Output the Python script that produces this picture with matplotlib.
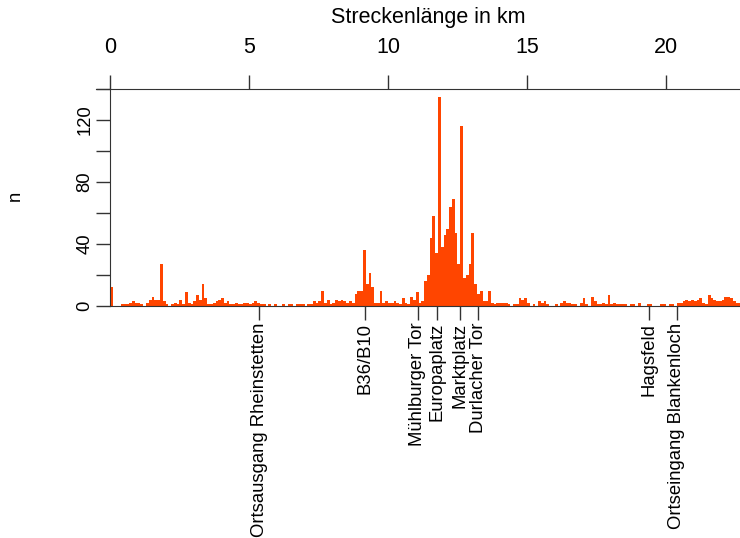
import numpy as np
import matplotlib.pyplot as plt
from matplotlib.ticker import MultipleLocator

plt.rcParams['font.family'] = ['Liberation Sans', 'DejaVu Sans']

# counts per 0.1 km section, starting at km 0.0
bin_width = 0.1
counts = [
    12, 0, 0, 0, 1, 1, 1, 2, 3, 2,        # 0
    2, 1, 0, 2, 4, 6, 4, 4, 27, 3,        # 1
    1, 0, 1, 2, 1, 4, 1, 9, 2, 1,         # 2
    3, 7, 4, 14, 5, 1, 1, 2, 3, 4,        # 3
    5, 2, 3, 1, 1, 2, 1, 1, 2, 2,         # 4
    1, 2, 3, 2, 1, 1, 0, 1, 0, 1,         # 5
    0, 0, 1, 0, 1, 1, 0, 1, 1, 1,         # 6
    0, 1, 1, 3, 2, 3, 10, 2, 4, 1,        # 7
    2, 4, 3, 4, 3, 2, 3, 2, 8, 10,        # 8
    10, 36, 14, 21, 12, 2, 2, 10, 2, 3,   # 9
    2, 2, 3, 2, 1, 5, 2, 1, 6, 4,         # 10
    9, 2, 3, 16, 20, 44, 58, 34, 135, 38, # 11
    46, 50, 64, 69, 47, 27, 116, 18, 20, 27,  # 12
    47, 14, 8, 10, 3, 3, 10, 2, 1, 2,     # 13
    2, 2, 2, 1, 0, 1, 1, 5, 4, 5,         # 14
    2, 0, 1, 0, 3, 2, 3, 1, 0, 0,         # 15
    1, 0, 2, 3, 2, 2, 1, 1, 0, 2,         # 16
    5, 1, 0, 6, 3, 1, 1, 2, 1, 7,         # 17
    1, 2, 1, 1, 1, 1, 0, 1, 1, 0,         # 18
    2, 0, 0, 1, 1, 0, 0, 0, 1, 1,         # 19
    0, 1, 1, 0, 2, 2, 3, 4, 3, 4,         # 20
    3, 4, 5, 2, 1, 7, 5, 4, 3, 3,         # 21
    4, 6, 6, 5, 3, 2, 2,                  # 22
]
km_start = np.arange(len(counts)) * bin_width

# named places along the route (km)
places = ['Ortsausgang Rheinstetten', 'B36/B10', 'Mühlburger Tor', 'Europaplatz',
          'Marktplatz', 'Durlacher Tor', 'Hagsfeld', 'Ortseingang Blankenloch']
place_km = [5.37, 9.17, 11.07, 11.77, 12.59, 13.25, 19.39, 20.38]

km_ticks = [0, 5, 10, 15, 20]
n_ticks = [0, 40, 80, 120]

axcol = '#333333'
fig = plt.figure(figsize=(7.4, 5.38), dpi=100)
ax = fig.add_axes([96 / 740, 1 - 306 / 538, 1 - 96 / 740, (306 - 89) / 538])

ax.bar(km_start, counts, width=bin_width, align='edge', color='#ff4500', linewidth=0)
ax.set_xlim(-0.5, 22.66)
ax.set_ylim(0, 140)

for s in ['right', 'top']:
    ax.spines[s].set_visible(False)
ax.spines['left'].set_position(('data', 0))
ax.spines['left'].set_color(axcol)
ax.spines['bottom'].set_color(axcol)
ax.spines['bottom'].set_bounds(0, 22.66)

# y axis: ticks every 20, labels every 40
ax.set_yticks(n_ticks)
ax.set_yticklabels([str(v) for v in n_ticks], rotation=90, va='center', fontsize=13.3)
ax.yaxis.set_minor_locator(MultipleLocator(20))
ax.tick_params(axis='y', which='both', length=10, width=1, color=axcol, pad=2)

# bottom axis: place names
ax.set_xticks(place_km)
ax.set_xticklabels(places, rotation=90, ha='center', va='top', fontsize=13.3)
ax.tick_params(axis='x', length=10, width=1, color=axcol, pad=2)

# top axis: km
top = ax.secondary_xaxis('top')
top.set_xticks(km_ticks)
top.set_xticklabels([str(v) for v in km_ticks], fontsize=15.5)
top.tick_params(length=10, width=1, color=axcol, pad=12)
top.spines['top'].set_color(axcol)

fig.text(428 / 740, 1 - 18 / 538, 'Streckenlänge in km', ha='center', va='center', fontsize=15.5)
fig.text(15 / 740, 1 - 196 / 538, 'n', rotation=90, ha='center', va='center', fontsize=13.3)

plt.savefig('out.png', dpi=100)
